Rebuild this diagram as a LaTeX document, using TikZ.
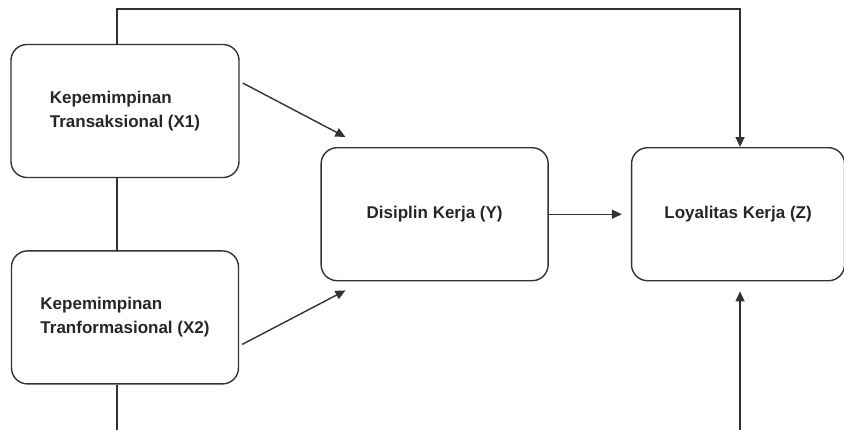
\documentclass[tikz,border=0pt]{standalone}
\usepackage{fontspec}
\setmainfont{Liberation Sans}
\definecolor{EdgeGray}{RGB}{50, 50, 50}
\definecolor{TextGray}{RGB}{38, 38, 38}
\usetikzlibrary{arrows.meta, positioning, calc}

\begin{document}
\begin{tikzpicture}[
        x=1pt, y=-1pt,
        node distance=72pt,
        box/.style={rectangle, draw=EdgeGray, line width=1.4pt, rounded corners=16pt, minimum height=133pt, align=left, text=TextGray, font=\fontsize{17}{24}\selectfont\bfseries},
        line/.style={draw=EdgeGray, line width=1.4pt},
        arrow/.style={line, -{Triangle[length=10pt, width=9pt]}}
    ]
        \useasboundingbox (0,0) rectangle (844,429);
        \coordinate (top) at (0,9);
        \coordinate (bot) at (0,430);

        \node [box, minimum width=228pt] (x1) at (125,111) {Kepemimpinan\\Transaksional (X1)};
        \node [box, minimum width=227pt, below=72pt of x1] (x2) {Kepemimpinan\\Tranformasional (X2)};
        \coordinate (mid) at ($(x1.east)!0.5!(x2.east)$);
        \node [box, minimum width=227pt, right=81pt of mid] (y) {Disiplin Kerja (Y)};
        \node [box, minimum width=213pt, right=82pt of y] (z) {Loyalitas Kerja (Z)};

        \path [line] ($(x1.south)+(-8,0)$) -- ($(x2.north)+(-8,0)$);
        \path [line] ($(x2.south)+(-8,0)$) -- ($(x2.south |- bot)+(-8,0)$);
        \path [arrow] ($(x1.north)+(-8,0)$) -- ($(x1.north |- top)+(-8,0)$) -- ($(z.north |- top)+(2,0)$) -- ($(z.north)+(2,0)$);
        \path [arrow] ($(x1.east)+(3,-28)$) -- ($(y.north west)+(25,-10)$);
        \path [arrow] ($(x2.east)+(3,27)$) -- ($(y.south west)+(25,9)$);
        \path [arrow, shorten >=9pt] (y.east) -- (z.west);
        \path [arrow] ($(z.south |- bot)+(2,0)$) -- ($(z.south)+(2,10)$);
    \end{tikzpicture}
\end{document}
